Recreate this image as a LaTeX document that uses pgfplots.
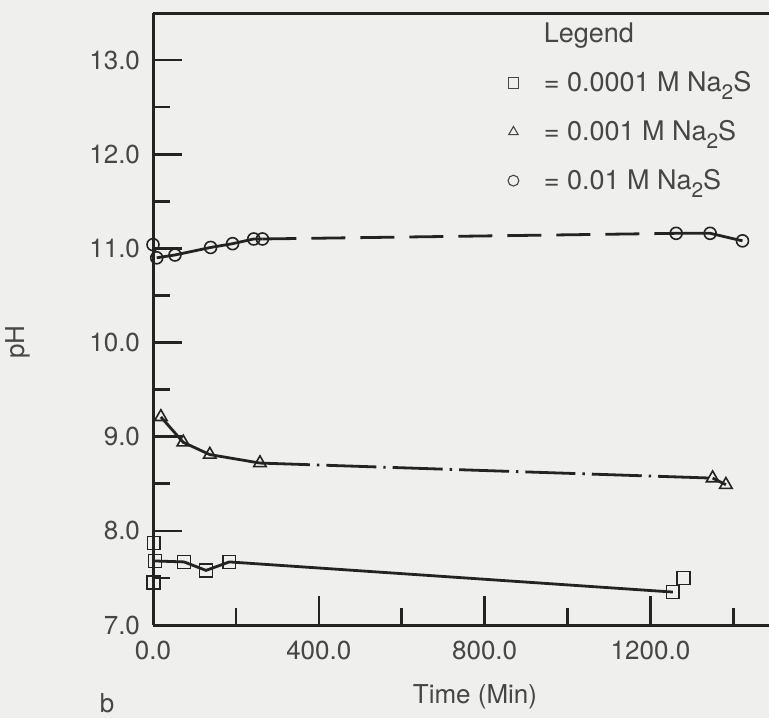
\documentclass[border=0pt]{standalone}
\usepackage{pgfplots}
\pgfplotsset{compat=1.18}
\usepackage{fontspec}
\setmainfont{TeX Gyre Heros}
\definecolor{bg}{RGB}{239,239,237}
\definecolor{ink}{RGB}{35,35,35}
\definecolor{txt}{RGB}{70,70,70}
\newcommand{\subtwo}{\raisebox{-4pt}{\fontsize{10.5}{10.5}\selectfont 2}}
\begin{document}
\begin{tikzpicture}
\fill[bg] (-76.5pt,-46.5pt) rectangle (308pt,312.5pt);
\begin{axis}[
  at={(0,0)}, anchor=south west,
  scale only axis, width=308pt, height=306pt,
  xmin=0, xmax=1486, ymin=7, ymax=13.5,
  axis x line*=box, axis y line*=left,
  axis line style={line width=1.5pt, ink},
  tick pos=left, tick align=inside,
  xtick={0,400,800,1200}, xticklabels={0.0,400.0,800.0,1200.0},
  minor xtick={200,600,1000,1400},
  ytick={7,8,9,10,11,12,13}, yticklabels={7.0,8.0,9.0,10.0,11.0,12.0,13.0},
  minor ytick={7.5,8.5,9.5,10.5,11.5,12.5},
  major tick length=14.5pt, minor tick length=8.5pt,
  tick style={ink, line width=1.3pt},
  /pgf/number format/assume math mode=true,
  ticklabel style={font=\fontsize{13}{15}\selectfont, text=txt},
  yticklabel style={xshift=-3pt},
  xticklabel style={yshift=-4.5pt},
  legend cell align=left,
  legend image code/.code={\draw[#1] plot coordinates {(0pt,0pt)};},
  legend image post style={mark size=2.7pt, mark options={draw=txt, fill=bg, line width=0.55pt}},
  legend style={draw=none, fill=none, at={(rel axis cs:0.566,0.997)}, anchor=north west,
    font=\fontsize{13.5}{15.5}\selectfont, text=txt, row sep=8.8pt,
    /tikz/every odd column/.style={column sep=10.5pt}},
]
\addlegendimage{empty legend}
\addlegendentry{Legend}
% lines
\addplot[forget plot, ink, line width=1.4pt] coordinates {(5,7.68) (75,7.67) (128,7.58) (184,7.67) (1254,7.35)};
\addplot[forget plot, ink, line width=1.4pt] coordinates {(19,9.21) (73,8.94) (137,8.81) (258,8.72)};
\addplot[forget plot, ink, line width=1.4pt, dash pattern=on 25pt off 3.5pt on 1.2pt off 3.5pt] coordinates {(258,8.72) (1350,8.56)};
\addplot[forget plot, ink, line width=1.4pt] coordinates {(1350,8.56) (1382,8.49)};
\addplot[forget plot, ink, line width=1.4pt] coordinates {(9,10.90) (53,10.93) (139,11.01) (192,11.05) (243,11.10) (264,11.10)};
\addplot[forget plot, ink, line width=1.4pt, dash pattern=on 17pt off 7.5pt] coordinates {(264,11.10) (1262,11.16)};
\addplot[forget plot, ink, line width=1.4pt] coordinates {(1262,11.16) (1344,11.16) (1422,11.08)};
% marks
\addplot[only marks, mark=square, mark size=3.2pt, mark options={draw=ink, fill=bg, line width=0.8pt}]
  coordinates {(2,7.87) (5,7.68) (1,7.45) (75,7.67) (128,7.58) (184,7.67) (1254,7.35) (1280,7.50)};
\addlegendentry{= 0.0001 M Na\subtwo S}
\addplot[only marks, mark=triangle, mark size=3.6pt, mark options={draw=ink, fill=bg, line width=0.8pt}]
  coordinates {(19,9.21) (73,8.94) (137,8.81) (258,8.72) (1350,8.56) (1382,8.49)};
\addlegendentry{= 0.001 M Na\subtwo S}
\addplot[only marks, mark=o, mark size=3pt, mark options={draw=ink, fill=bg, line width=0.8pt}]
  coordinates {(0,11.04) (9,10.90) (53,10.93) (139,11.01) (192,11.05) (243,11.10) (264,11.10) (1262,11.16) (1344,11.16) (1422,11.08)};
\addlegendentry{= 0.01 M Na\subtwo S}
\end{axis}
\node[rotate=90, font=\fontsize{13}{15}\selectfont, text=txt] at ([xshift=-67.5pt,yshift=141.5pt]current axis.south west) {pH};
\node[font=\fontsize{13}{15}\selectfont, text=txt] at ([xshift=161pt,yshift=-36pt]current axis.south west) {Time (Min)};
\node[font=\fontsize{13}{15}\selectfont, text=txt] at ([xshift=-23pt,yshift=-39pt]current axis.south west) {b};
\pgfresetboundingbox
\path[use as bounding box] (-76.5pt,-46.5pt) rectangle (308pt,312.5pt);
\end{tikzpicture}
\end{document}
